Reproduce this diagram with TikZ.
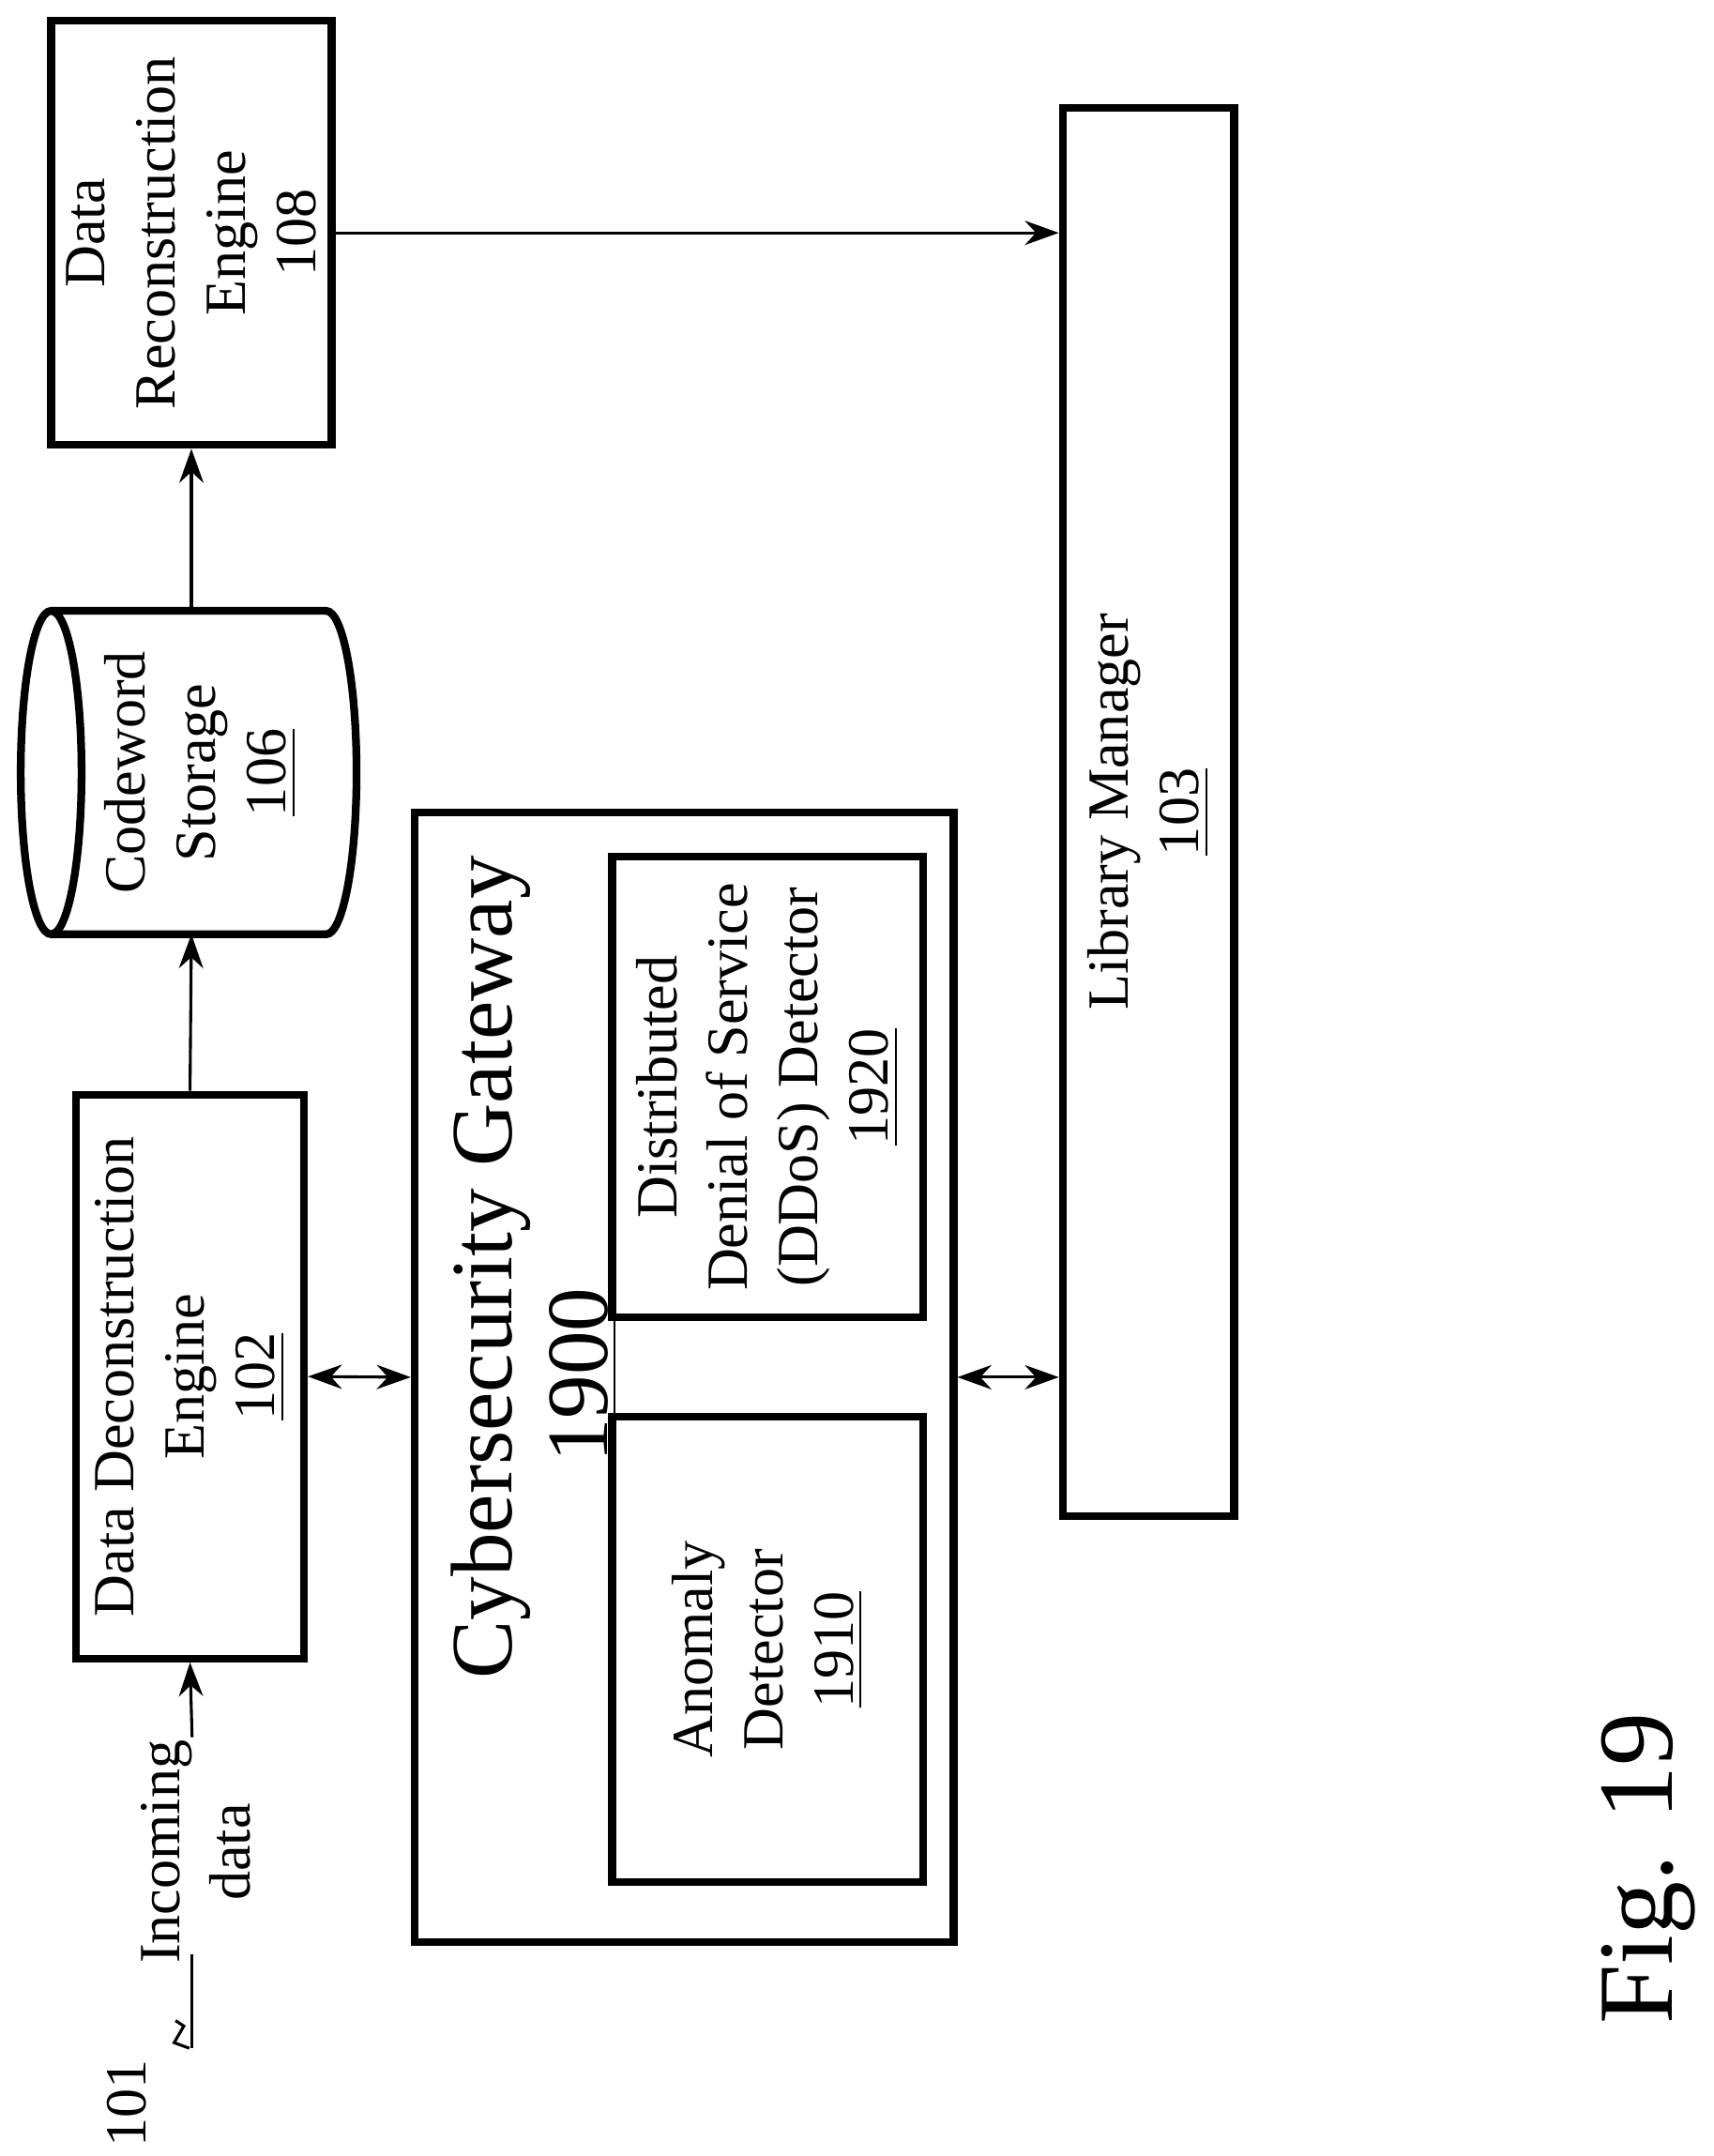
\documentclass[tikz,border=0pt]{standalone}
\usepackage{fontspec}
\setmainfont{Liberation Serif}
\usetikzlibrary{arrows.meta,positioning}

\begin{document}
\begin{tikzpicture}[
  box/.style={draw, line width=1.6pt, rotate=90, align=center, inner sep=0pt},
  lbl/.style={rotate=90, align=center, font=\fontsize{12}{14.5}\selectfont},
  arr/.style={-{Stealth[length=7pt,width=5pt]}, line width=0.6pt},
  darr/.style={{Stealth[length=7pt,width=5pt]}-{Stealth[length=7pt,width=5pt]}, line width=0.6pt}]
  \useasboundingbox (0,0) rectangle (12.4,-15.6);
  % top row
  \node[box, minimum width=3.07cm, minimum height=2.03cm] (dre) at (1.385,-1.685) {};
  \node[lbl] at (dre) {Data\\Reconstruction\\Engine\\108};
  \node[box, minimum width=10.19cm, minimum height=1.24cm] (lm) at (8.31,-5.875) {};
  \node[lbl] at (lm) {Library Manager\\\underline{103}};
  % codeword storage
  \draw[line width=1.6pt] (0.37,-5.59) ellipse (0.22 and 1.17);
  \draw[line width=1.6pt] (0.37,-4.42) -- (2.36,-4.42) arc (90:-90:0.22 and 1.17) -- (0.37,-6.76);
  \coordinate (cstop) at (1.385,-4.42);
  \coordinate (csbot) at (1.385,-6.76);
  \node[lbl] (cs) at (1.45,-5.59) {Codeword\\Storage\\\underline{106}};
  % deconstruction and gateway
  \node[box, minimum width=4.08cm, minimum height=1.65cm] (dde) at (1.375,-9.96) {};
  \node[lbl] at (dde) {Data Deconstruction\\Engine\\\underline{102}};
  \node[box, minimum width=8.17cm, minimum height=3.9cm] (cg) at (4.95,-9.965) {};
  \node[lbl, font=\fontsize{18}{21}\selectfont] (cgt) at (3.55,-9.17) {Cybersecurity Gateway};
  \node[lbl, font=\fontsize{18}{21}\selectfont] (cgn) at (4.22,-9.95) {\underline{1900}};
  \node[box, minimum width=3.33cm, minimum height=2.25cm] (ddos) at (5.555,-7.865) {};
  \node[lbl] at (ddos) {Distributed\\Denial of Service\\(DDoS) Detector\\\underline{1920}};
  \node[box, minimum width=3.37cm, minimum height=2.25cm] (ad) at (5.555,-11.935) {};
  \node[lbl] at (ad) {Anomaly\\Detector\\\underline{1910}};
  % connectors
  \draw[arr] (dre.south) -- (dre.south -| lm.north);
  \draw[arr] (cstop) -- (dre.west);
  \draw[arr] (dde.east) -- (csbot);
  \draw[darr] (dde.south) -- (cg.north);
  \draw[darr] (cg.south) -- (cg.south -| lm.north);
  % incoming data
  \coordinate (in1) at (1.39,-14.82);
  \coordinate (in2) at (1.39,-14.14);
  \coordinate (in3) at (1.39,-12.57);
  \node[lbl] (inc) at (1.42,-13.4) {Incoming\\data};
  \draw[line width=0.6pt] (in1) -- (in2);
  \draw[arr] (in3) -- (dde.west);
  \draw[line width=0.6pt] (1.37,-14.82) -- (1.26,-14.78) -- (1.33,-14.66) -- (1.27,-14.62);
  \node[lbl] (ref) at (0.92,-15.22) {101};
  \node[rotate=90, font=\fontsize{22}{30}\selectfont] (fig) at (11.93,-13.52) {Fig. 19};
\end{tikzpicture}
\end{document}
